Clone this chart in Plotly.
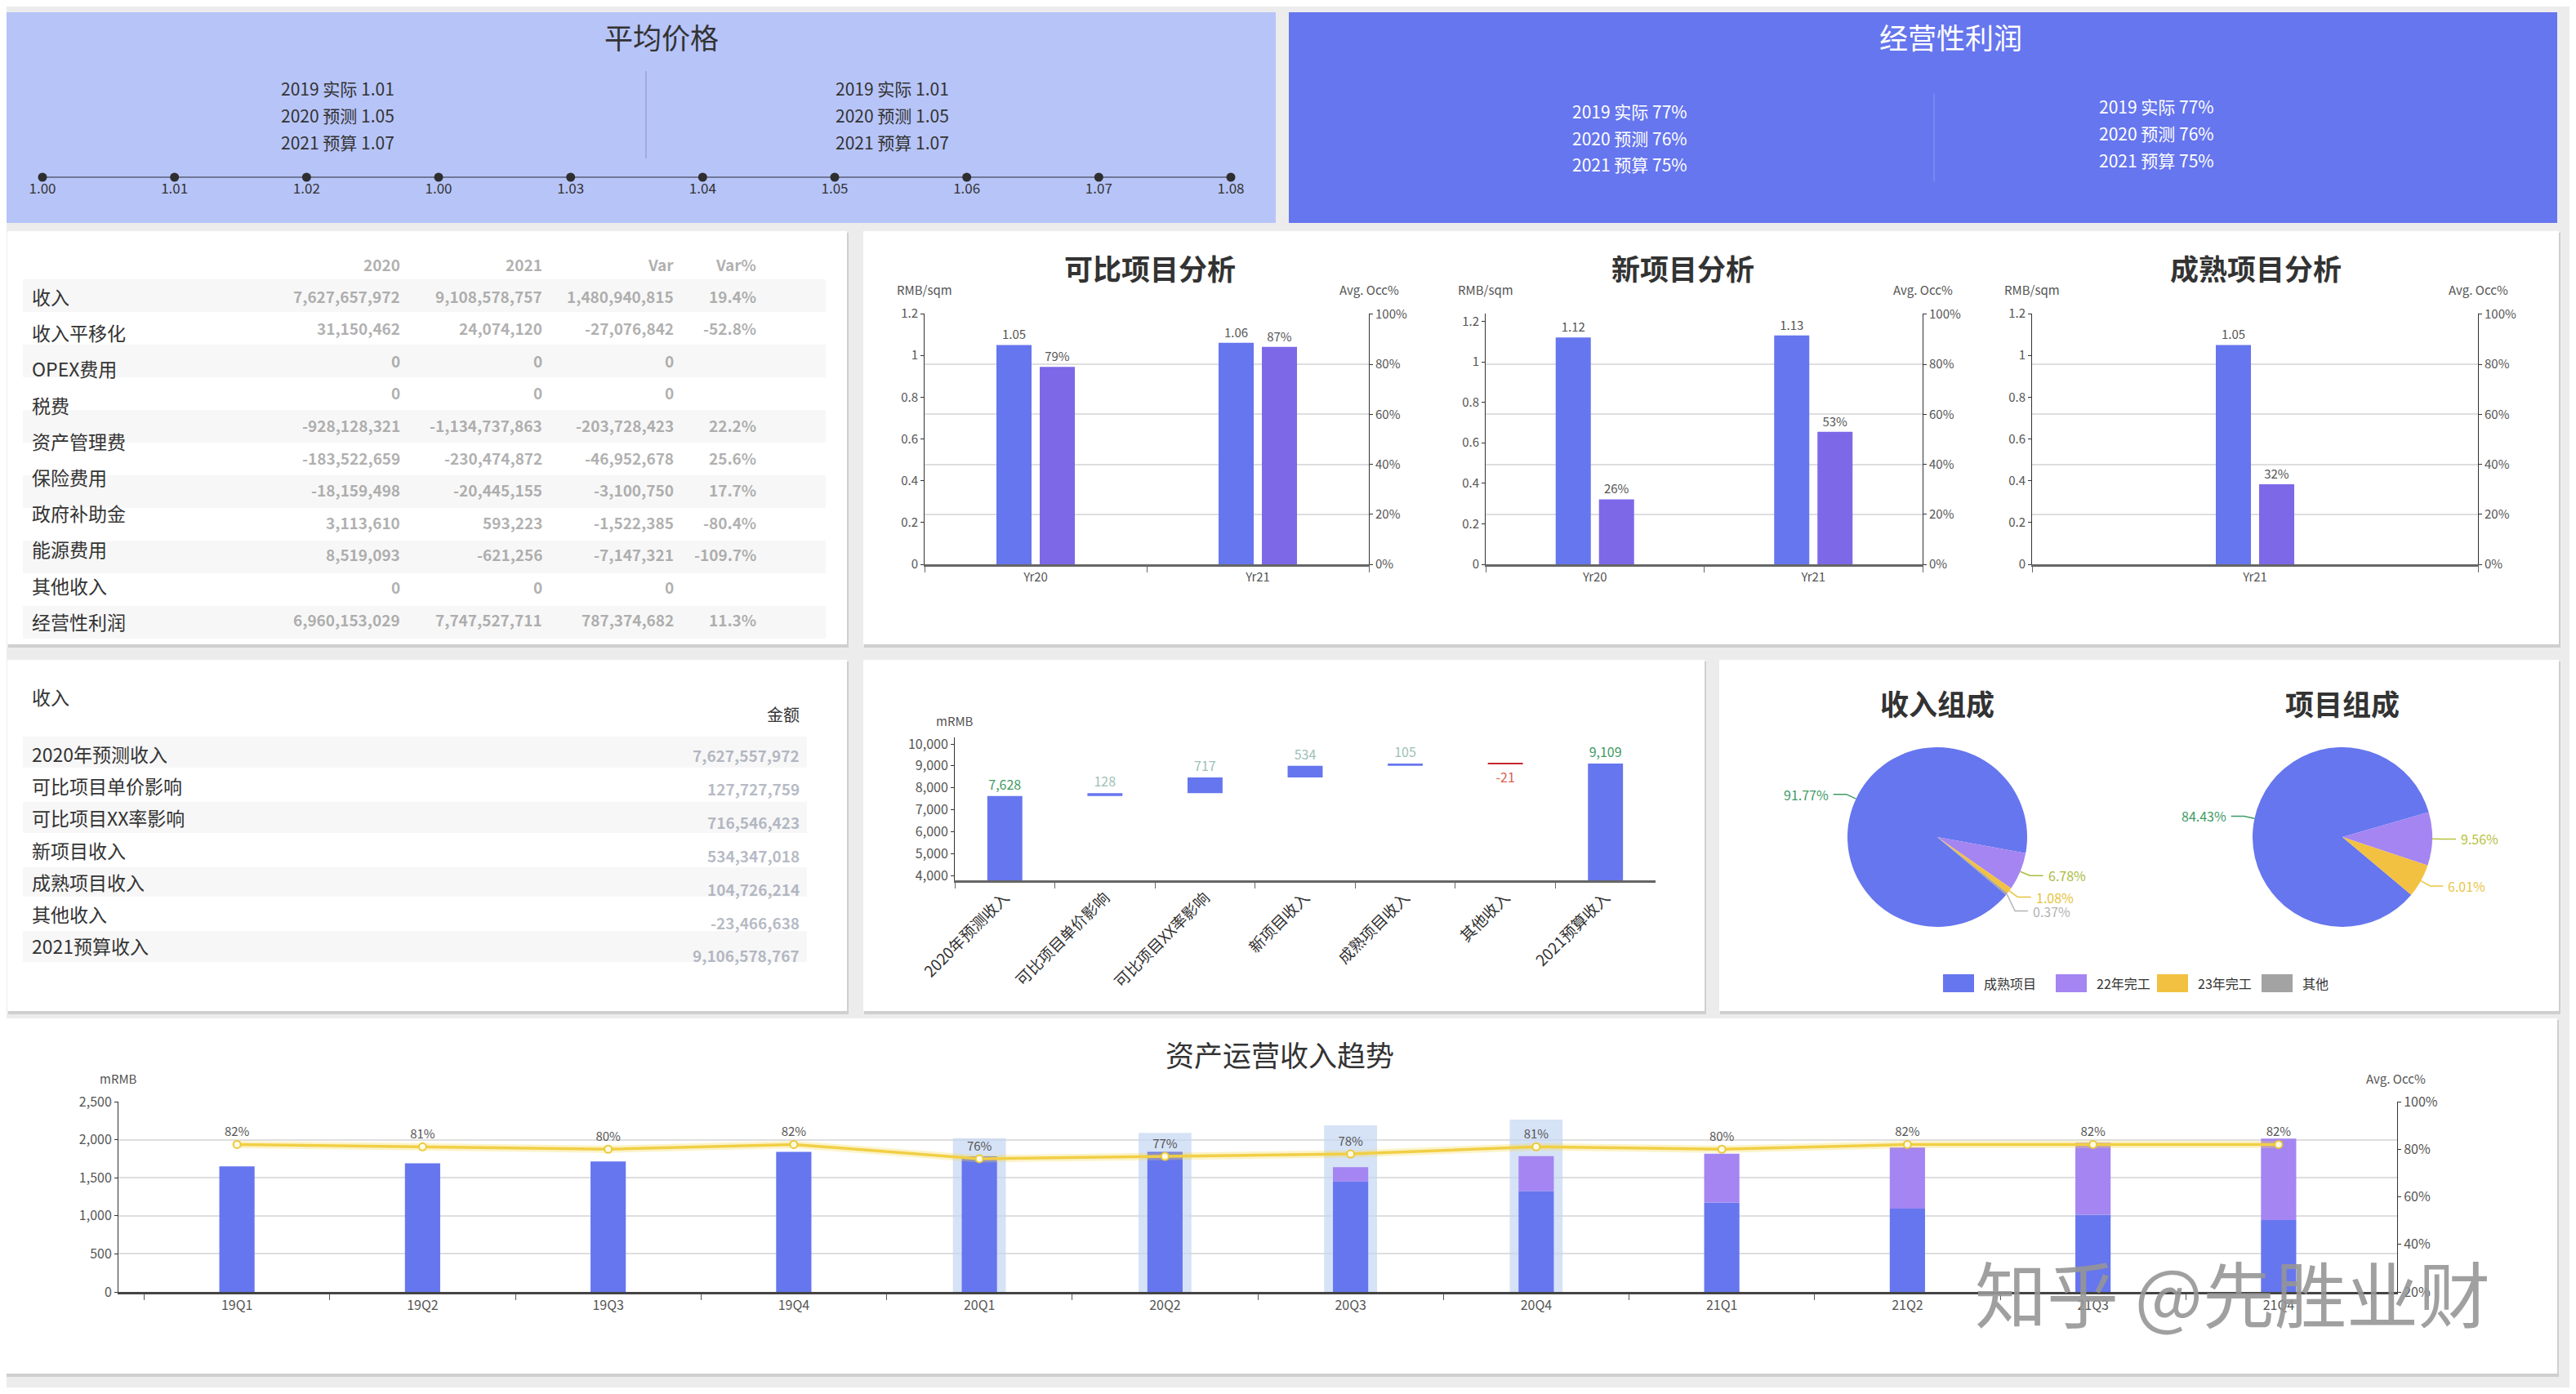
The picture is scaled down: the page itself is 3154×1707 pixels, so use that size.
import math
import plotly.graph_objects as go

# ---------------- data ----------------
price_periods = ["2019 实际", "2020 预测", "2021 预算"]
price_values = [1.01, 1.05, 1.07]
profit_periods = ["2019 实际", "2020 预测", "2021 预算"]
profit_values = [77, 76, 75]
timeline_labels = ["1.00", "1.01", "1.02", "1.00", "1.03", "1.04", "1.05", "1.06", "1.07", "1.08"]

pl_items = ["收入", "收入平移化", "OPEX费用", "税费", "资产管理费", "保险费用",
            "政府补助金", "能源费用", "其他收入", "经营性利润"]
pl_header = ["2020", "2021", "Var", "Var%"]
pl_2020 = [7627657972, 31150462, 0, 0, -928128321, -183522659, -18159498, 3113610, 8519093, 0, 6960153029]
pl_2021 = [9108578757, 24074120, 0, 0, -1134737863, -230474872, -20445155, 593223, -621256, 0, 7747527711]
pl_var = [1480940815, -27076842, 0, 0, -203728423, -46952678, -3100750, -1522385, -7147321, 0, 787374682]
pl_varpct = [19.4, -52.8, None, None, 22.2, 25.6, 17.7, -80.4, -109.7, None, 11.3]

bridge_items = ["2020年预测收入", "可比项目单价影响", "可比项目XX率影响", "新项目收入",
                "成熟项目收入", "其他收入", "2021预算收入"]
bridge_amounts = [7627557972, 127727759, 716546423, 534347018, 104726214, -23466638, 9106578767]

comp_years = ["Yr20", "Yr21"]
comp_price = [1.05, 1.06]
comp_occ = [79, 87]
new_years = ["Yr20", "Yr21"]
new_price = [1.12, 1.13]
new_occ = [26, 53]
mature_years = ["Yr21"]
mature_price = [1.05]
mature_occ = [32]

wf_labels = bridge_items
wf_values = [7628, 128, 717, 534, 105, -21, 9109]
wf_measure = ["absolute", "relative", "relative", "relative", "relative", "relative", "absolute"]

mix_labels = ["成熟项目", "22年完工", "23年完工", "其他"]
revenue_mix = [91.77, 6.78, 1.08, 0.37]
project_mix = [84.43, 9.56, 6.01, 0]

quarters = ["19Q1", "19Q2", "19Q3", "19Q4", "20Q1", "20Q2", "20Q3", "20Q4", "21Q1", "21Q2", "21Q3", "21Q4"]
rev_mature = [1650, 1690, 1715, 1840, 1780, 1840, 1450, 1325, 1175, 1095, 1015, 945]
rev_new = [0, 0, 0, 0, 0, 0, 190, 460, 640, 805, 945, 1070]
occupancy = [82, 81, 80, 82, 76, 77, 78, 81, 80, 82, 82, 82]
highlight = [None, None, None, None, 2020, 2090, 2190, 2265, None, None, None, None]

# ---------------- styling helpers ----------------
W, H = 3138, 1691
OX, OY = 8, 8
FONT = "Noto Sans CJK SC, Noto Sans, sans-serif"
BLUE = "#6676ee"
PURPLE = "#7d68e8"
LAVENDER = "#a485f2"
YELLOW = "#f3c141"
GRAY = "#a3a3a3"
RED = "#c4262e"
TXT = "#333333"
TICK = "#555555"


def fx(X):
    return (X - OX) / W


def fy(Y):
    return 1 - (Y - OY) / H


shapes, annotations = [], []


def rect(x0, y0, x1, y1, color, layer="below"):
    shapes.append(dict(type="rect", xref="paper", yref="paper",
                       x0=fx(x0), x1=fx(x1), y0=fy(y1), y1=fy(y0),
                       fillcolor=color, line=dict(width=0), layer=layer))


def seg(x0, y0, x1, y1, color, width=1, layer="below"):
    shapes.append(dict(type="line", xref="paper", yref="paper",
                       x0=fx(x0), x1=fx(x1), y0=fy(y0), y1=fy(y1),
                       line=dict(color=color, width=width), layer=layer))


def label(X, Y, s, size, color=TXT, xanchor="center", yanchor="middle", weight=None):
    f = dict(size=size, color=color, family=FONT)
    if weight:
        f["weight"] = weight
    annotations.append(dict(xref="paper", yref="paper", x=fx(X), y=fy(Y), text=s,
                            showarrow=False, xanchor=xanchor, yanchor=yanchor, font=f))


def pct_text(vals):
    return [f"{v}%" for v in vals]


fig = go.Figure()
layout_axes = {}

# ---------------- panels ----------------
rect(8, 15, 1562, 273, "#b7c4f8")
rect(1578, 15, 3131, 273, BLUE)
for (x0, y0, x1, y1) in [(9, 283, 1037, 789), (1057, 283, 3133, 789), (9, 808, 1037, 1238),
                         (1057, 808, 2087, 1238), (2105, 808, 3133, 1238), (0, 1247, 3131, 1682)]:
    rect(x0 + 1, y0 + 2, x1 + 2, y1 + 4, "#cfcfcf")
    rect(x0, y0, x1, y1, "white")

# ---------------- panel A : 平均价格 ----------------
label(810, 45, "平均价格", 35)
for i, (p, v) in enumerate(zip(price_periods, price_values)):
    label(413, 108 + 33 * i, f"{p} {v:.2f}", 21)
    label(1092, 108 + 33 * i, f"{p} {v:.2f}", 21)
seg(791, 87, 791, 194, "#8a93bd", 1)

fig.add_trace(go.Scatter(x=list(range(len(timeline_labels))), y=[0] * len(timeline_labels),
                         mode="lines+markers", xaxis="x", yaxis="y", cliponaxis=False,
                         line=dict(color="#5a5f78", width=1.5),
                         marker=dict(size=11, color="#2e2e2e"), hoverinfo="skip"))
layout_axes["xaxis"] = dict(domain=[fx(52), fx(1507)], anchor="y", range=[0, len(timeline_labels) - 1],
                            tickvals=list(range(len(timeline_labels))), ticktext=timeline_labels,
                            showgrid=False, zeroline=False, showline=False, ticks="",
                            tickfont=dict(size=17, color=TXT))
layout_axes["yaxis"] = dict(domain=[fy(219), fy(215)], anchor="x", range=[-1, 1], visible=False)

# ---------------- panel B : 经营性利润 ----------------
label(2388, 45, "经营性利润", 35, "white")
for i, (p, v) in enumerate(zip(profit_periods, profit_values)):
    label(1995, 136 + 32.5 * i, f"{p} {v}%", 21, "white")
    label(2640, 130 + 33 * i, f"{p} {v}%", 21, "white")
seg(2368, 114, 2368, 222, "#8d99f3", 1)

# ---------------- panel C : P&L table (figures are blurred in the source) ----------------
BLUR_COLOR = "rgba(125,125,125,0.62)"
for k in range(6):
    rect(28, 342 + 80 * k, 1011, 382 + 80 * k, "#f7f7f7")
for i, item in enumerate(pl_items):
    label(37, 363 + 44.2 * i, item, 23, xanchor="left")
col_x = [492, 666, 827, 928]
for j, h in enumerate(pl_header):
    label(col_x[j], 323, h, 19, BLUR_COLOR, xanchor="right", weight="bold")
for i in range(len(pl_2020)):
    yy = 362 + 39.6 * i
    cells = [f"{pl_2020[i]:,}", f"{pl_2021[i]:,}", f"{pl_var[i]:,}",
             "" if pl_varpct[i] is None else f"{pl_varpct[i]:.1f}%"]
    for j, c in enumerate(cells):
        if c:
            label(col_x[j], yy, c, 19, BLUR_COLOR, xanchor="right", weight="bold")

# ---------------- panel E : bridge table ----------------
for (a, b) in [(902, 940), (982, 1020), (1062, 1098), (1140, 1178)]:
    rect(28, a, 988, b, "#f7f7f7")
label(37, 853, "收入", 23, xanchor="left")
label(981, 875, "金额", 20, xanchor="right")
for i, (item, amt) in enumerate(zip(bridge_items, bridge_amounts)):
    label(37, 923 + 39.2 * i, item, 23, xanchor="left")
    label(981, 925 + 40.8 * i, f"{amt:,}", 19, "rgba(120,128,148,0.55)", xanchor="right", weight="bold")

# ---------------- panel D : three dual-axis bar charts ----------------
charts = [
    dict(title="可比项目分析", tx=1408, x0=1132, x1=1676, cats=comp_years, price=comp_price,
         occ=comp_occ, top=1.2, xa="x2", ya="y2", yb="y3"),
    dict(title="新项目分析", tx=2060, x0=1819, x1=2354, cats=new_years, price=new_price,
         occ=new_occ, top=1.238, xa="x3", ya="y4", yb="y5"),
    dict(title="成熟项目分析", tx=2762, x0=2488, x1=3034, cats=mature_years, price=mature_price,
         occ=mature_occ, top=1.2, xa="x4", ya="y6", yb="y7"),
]
Y0, Y1 = 691, 384
occ_ticks = [0, 20, 40, 60, 80, 100]
for ch in charts:
    label(ch["tx"], 327, ch["title"], 35, weight="bold")
    label(ch["x0"], 354, "RMB/sqm", 15, TICK)
    label(ch["x1"], 354, "Avg. Occ%", 15, TICK)
    ncat = len(ch["cats"])
    cat_px = (ch["x1"] - ch["x0"]) / ncat
    bw = 43 / cat_px
    fig.add_trace(go.Bar(x=ch["cats"], y=ch["price"], xaxis=ch["xa"], yaxis=ch["ya"],
                         width=bw, offset=-48 / cat_px, marker=dict(color=BLUE, line=dict(width=0)),
                         text=[f"{v:.2f}" for v in ch["price"]], textposition="outside",
                         constraintext="none", cliponaxis=False,
                         textfont=dict(size=15, color=TICK), hoverinfo="skip"))
    fig.add_trace(go.Bar(x=ch["cats"], y=ch["occ"], xaxis=ch["xa"], yaxis=ch["yb"],
                         width=bw, offset=5 / cat_px, marker=dict(color=PURPLE, line=dict(width=0)),
                         text=pct_text(ch["occ"]), textposition="outside",
                         constraintext="none", cliponaxis=False,
                         textfont=dict(size=15, color=TICK), hoverinfo="skip"))
    xname = "xaxis" + ch["xa"][1:]
    yaname = "yaxis" + ch["ya"][1:]
    ybname = "yaxis" + ch["yb"][1:]
    layout_axes[xname] = dict(domain=[fx(ch["x0"]), fx(ch["x1"])], anchor=ch["ya"], type="category",
                              range=[-0.5, ncat - 0.5], showline=True, linecolor="#666", linewidth=2.5,
                              ticks="outside", tickson="boundaries", ticklen=7, tickcolor="#666",
                              showgrid=False, zeroline=False, tickfont=dict(size=15, color=TICK))
    layout_axes[yaname] = dict(domain=[fy(Y0), fy(Y1)], anchor=ch["xa"], range=[0, ch["top"]], dtick=0.2,
                               showgrid=False, zeroline=False, showline=True, linecolor="#333",
                               linewidth=1, ticks="outside", ticklen=4, tickcolor="#333",
                               tickfont=dict(size=15, color=TICK))
    layout_axes[ybname] = dict(overlaying=ch["ya"], side="right", anchor=ch["xa"], range=[0, 100.3],
                               tickmode="array", tickvals=occ_ticks, ticktext=pct_text(occ_ticks),
                               showgrid=True, gridcolor="#dedede", gridwidth=1.5, zeroline=False,
                               showline=True, linecolor="#333", linewidth=1, ticks="outside",
                               ticklen=4, tickcolor="#333", tickfont=dict(size=15, color=TICK))

# ---------------- panel F : waterfall ----------------
label(1169, 882, "mRMB", 15, TICK)
wf_text, wf_colors = [], []
for m, v in zip(wf_measure, wf_values):
    wf_text.append(f"{v:,}")
    if m == "absolute":
        wf_colors.append("#3f9a62")
    elif v >= 0:
        wf_colors.append("#9ebfb6")
    else:
        wf_colors.append("#d9624f")
fig.add_trace(go.Waterfall(x=wf_labels, y=wf_values, measure=wf_measure, xaxis="x5", yaxis="y8",
                           width=0.35, text=wf_text, textposition="outside", cliponaxis=False,
                           textfont=dict(size=16, color=wf_colors), constraintext="none",
                           increasing=dict(marker=dict(color=BLUE)),
                           decreasing=dict(marker=dict(color=RED)),
                           totals=dict(marker=dict(color=BLUE)),
                           connector=dict(visible=False), hoverinfo="skip"))
layout_axes["xaxis5"] = dict(domain=[fx(1169), fx(2027)], anchor="y8", type="category",
                             showline=True, linecolor="#666", linewidth=2.5, ticks="outside",
                             tickson="boundaries", ticklen=7, tickcolor="#666", tickangle=-45,
                             showgrid=False, zeroline=False, tickfont=dict(size=19, color=TXT))
layout_axes["yaxis8"] = dict(domain=[fy(1078), fy(903)], anchor="x5", range=[3780, 10300],
                             tickvals=[4000, 5000, 6000, 7000, 8000, 9000, 10000], tickformat=",",
                             showgrid=False, zeroline=False, showline=True, linecolor="#333",
                             ticks="outside", ticklen=4, tickcolor="#333",
                             tickfont=dict(size=16, color=TICK))

# ---------------- panel G : pies ----------------
PIE_COLORS = [BLUE, LAVENDER, YELLOW, GRAY]
PIE_ROT = 130
R = 110
label(2372, 860, "收入组成", 35, weight="bold")
label(2868, 860, "项目组成", 35, weight="bold")


def draw_pie(cx, cy, values, txt_colors):
    fig.add_trace(go.Pie(values=values, labels=mix_labels, sort=False, direction="clockwise",
                         rotation=PIE_ROT, textinfo="none", hoverinfo="skip", showlegend=False,
                         marker=dict(colors=PIE_COLORS, line=dict(width=0)),
                         domain=dict(x=[fx(cx - R), fx(cx + R)], y=[fy(cy + R), fy(cy - R)])))
    total = sum(values)
    ang = PIE_ROT
    items = []
    for v, c in zip(values, txt_colors):
        if v <= 0:
            continue
        span = v / total * 360
        mid = math.radians(ang + span / 2)
        ang += span
        ex, ey = cx + R * math.sin(mid), cy - R * math.cos(mid)
        rx, ry = cx + (R + 13) * math.sin(mid), cy - (R + 13) * math.cos(mid)
        side = 1 if math.sin(mid) >= 0 else -1
        items.append([side, ex, ey, rx, ry, v, c])
    for side in (1, -1):
        its = sorted([it for it in items if it[0] == side], key=lambda it: it[4])
        for a, b in zip(its, its[1:]):
            if b[4] - a[4] < 17:
                b[4] = a[4] + 17
    for side, ex, ey, rx, ry, v, c in items:
        hx = rx + side * 16
        path = f"M {fx(ex)},{fy(ey)} L {fx(rx)},{fy(ry)} L {fx(hx)},{fy(ry)}"
        shapes.append(dict(type="path", path=path, xref="paper", yref="paper",
                           line=dict(color=c, width=1.5), layer="above"))
        label(hx + side * 4, ry, f"{v:.2f}%", 16, c, xanchor="left" if side > 0 else "right")


draw_pie(2372, 1025, revenue_mix, ["#3e9a66", "#a9bb3c", "#e6c23a", "#b3b3b3"])
draw_pie(2868, 1025, project_mix, ["#3e9a66", "#b7c13e", "#e9c646", "#b3b3b3"])

legend_x = [2379, 2517, 2641, 2769]
for lx, name, col in zip(legend_x, mix_labels, PIE_COLORS):
    rect(lx, 1193, lx + 38, 1215, col, layer="above")
    label(lx + 48, 1204, name, 16, xanchor="left")

# ---------------- panel H : trend ----------------
label(1567, 1290, "资产运营收入趋势", 35)
label(145, 1320, "mRMB", 15, TICK)
label(2933, 1320, "Avg. Occ%", 15, TICK)
fig.add_trace(go.Bar(x=quarters, y=highlight, xaxis="x6", yaxis="y9", width=0.285,
                     marker=dict(color="rgba(196,214,242,0.7)", line=dict(width=0)), hoverinfo="skip"))
fig.add_trace(go.Bar(x=quarters, y=rev_mature, xaxis="x6", yaxis="y9", width=0.19,
                     marker=dict(color=BLUE, line=dict(width=0)), hoverinfo="skip"))
fig.add_trace(go.Bar(x=quarters, y=rev_new, base=rev_mature, xaxis="x6", yaxis="y9", width=0.19,
                     marker=dict(color=LAVENDER, line=dict(width=0)), hoverinfo="skip"))
fig.add_trace(go.Scatter(x=quarters, y=occupancy, xaxis="x6", yaxis="y10", mode="lines",
                         line=dict(color="rgba(245,215,80,0.30)", width=9), hoverinfo="skip"))
fig.add_trace(go.Scatter(x=quarters, y=occupancy, xaxis="x6", yaxis="y10",
                         mode="lines+markers+text", text=pct_text(occupancy),
                         textposition="top center", cliponaxis=False,
                         textfont=dict(size=15, color=TICK),
                         line=dict(color="#f1cf45", width=3.5),
                         marker=dict(size=9, color="#fffbe3", line=dict(color="#ecc93a", width=2)),
                         hoverinfo="skip"))
trend_occ_ticks = [20, 40, 60, 80, 100]
layout_axes["xaxis6"] = dict(domain=[fx(145), fx(2935)], anchor="y9", type="category",
                             showline=True, linecolor="#444", linewidth=2.5, ticks="outside",
                             tickson="boundaries", ticklen=7, tickcolor="#555",
                             showgrid=False, zeroline=False, tickfont=dict(size=16, color=TICK))
layout_axes["yaxis9"] = dict(domain=[fy(1582), fy(1349)], anchor="x6", range=[0, 2500], dtick=500,
                             tickformat=",", showgrid=True, gridcolor="#dedede", gridwidth=1.5,
                             zeroline=False, showline=True, linecolor="#333", ticks="outside",
                             ticklen=4, tickcolor="#333", tickfont=dict(size=16, color=TICK))
layout_axes["yaxis10"] = dict(overlaying="y9", side="right", anchor="x6", range=[20, 100],
                              tickmode="array", tickvals=trend_occ_ticks,
                              ticktext=pct_text(trend_occ_ticks), showgrid=False,
                              zeroline=False, showline=True, linecolor="#333", ticks="outside",
                              ticklen=4, tickcolor="#333", tickfont=dict(size=16, color=TICK))

# watermark
label(2733, 1580, "知乎 @先胜业财", 88, "rgba(150,150,150,0.9)")

fig.update_layout(
    template="none",
    width=W, height=H,
    margin=dict(l=0, r=0, t=0, b=0),
    paper_bgcolor="#ececec",
    plot_bgcolor="rgba(0,0,0,0)",
    font=dict(family=FONT, color=TXT),
    showlegend=False,
    barmode="overlay",
    hovermode=False,
    shapes=shapes,
    annotations=annotations,
    **layout_axes,
)

fig.write_html("out.html")
